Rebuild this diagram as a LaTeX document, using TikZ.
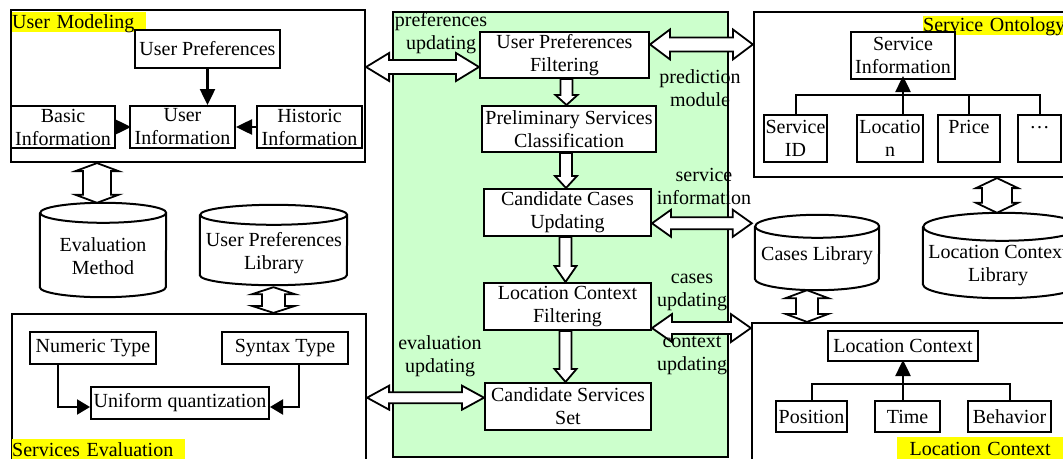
\documentclass[tikz,border=0pt]{standalone}
\usepackage{fontspec}
\setmainfont{Liberation Serif}
\usetikzlibrary{calc,arrows.meta}
\definecolor{panelgreen}{HTML}{CCFFCC}
\definecolor{tagyellow}{HTML}{FFFF00}

\tikzset{
  every node/.append style={font=\fontsize{20}{23}\selectfont},
  itembox/.style={draw, line width=2pt, fill=white, inner sep=0pt, align=center},
  groupframe/.style={draw, line width=2.2pt, fill=white, inner sep=0pt},
  tagnote/.style={fill=tagyellow, inner sep=0pt, anchor=north west},
  txt/.style={inner sep=0pt, align=center},
  cylnode/.style={inner sep=0pt, draw=none},
  cylline/.style={line width=2pt},
  flowlink/.style={line width=2.5pt, -{Triangle[length=16pt,width=15pt]}},
  quantlink/.style={line width=2pt, -{Triangle[length=13pt,width=15pt]}},
  treeline/.style={line width=2pt},
  blockarrow/.style={draw, line width=1.8pt, fill=white, line join=miter},
}

% double-headed horizontal block arrow: left tip, right tip, shaft half, head half, head length
\newcommand\BiArrowH[5]{%
  \path[blockarrow] let \p1=(#1), \p2=(#2) in
   (\x1,\y1) -- (\x1+#5,\y1+#4) -- (\x1+#5,\y1+#3) -- (\x2-#5,\y1+#3)
   -- (\x2-#5,\y1+#4) -- (\x2,\y1) -- (\x2-#5,\y1-#4) -- (\x2-#5,\y1-#3)
   -- (\x1+#5,\y1-#3) -- (\x1+#5,\y1-#4) -- cycle;}
% double-headed vertical block arrow: top tip, bottom tip, shaft half, head half, head length
\newcommand\BiArrowV[5]{%
  \path[blockarrow] let \p1=(#1), \p2=(#2) in
   (\x1,\y1) -- (\x1+#4,\y1-#5) -- (\x1+#3,\y1-#5) -- (\x1+#3,\y2+#5)
   -- (\x1+#4,\y2+#5) -- (\x1,\y2) -- (\x1-#4,\y2+#5) -- (\x1-#3,\y2+#5)
   -- (\x1-#3,\y1-#5) -- (\x1-#4,\y1-#5) -- cycle;}
% single downward block arrow
\newcommand\DownArrowV[5]{%
  \path[blockarrow] let \p1=(#1), \p2=(#2) in
   (\x1-#3,\y1) -- (\x1+#3,\y1) -- (\x1+#3,\y2+#5) -- (\x1+#4,\y2+#5)
   -- (\x1,\y2) -- (\x1-#4,\y2+#5) -- (\x1-#3,\y2+#5) -- cycle;}
% database cylinder outline round a named node: node, x radius, y radius
\newcommand\CylDraw[3]{%
  \draw[cylline] ([yshift=-#3]#1.north west) -- ([yshift=#3]#1.south west)
    arc[start angle=180,end angle=360,x radius=#2,y radius=#3]
    -- ([yshift=-#3]#1.north east)
    arc[start angle=0,end angle=360,x radius=#2,y radius=#3];}

\begin{document}
\begin{tikzpicture}[x=1pt,y=-1pt]
\path[use as bounding box] (0,0) rectangle (1063,458);
\clip (0,0) rectangle (1063,458);
\fill[white] (0,0) rectangle (1063,458);

% central processing panel
\node[draw, line width=1.5pt, fill=panelgreen, inner sep=0pt,
      minimum width=335pt, minimum height=445pt] (panel) at (560.5,234.5) {};

% ---------- User Modeling ----------
\node[groupframe, minimum width=354pt, minimum height=152pt] (um) at (188,86) {};
\node[tagnote, text width=134pt, text height=16pt, text depth=4pt, align=left] (umtag) at (12,12) {User Modeling};
\node[itembox, minimum width=145pt, minimum height=38pt] (up) at (207.5,49) {User Preferences};
\node[itembox, minimum width=104pt, minimum height=42pt] (basic) at (63,127) {Basic\\Information};
\node[itembox, minimum width=105pt, minimum height=42pt] (uinfo) at (182.5,127) {User\\Information};
\node[itembox, minimum width=105pt, minimum height=42pt] (hist) at (309.5,127) {Historic\\Information};
\draw[flowlink] (up.south) -- (up.south |- uinfo.north);
\draw[flowlink] (basic.east) -- ([xshift=2pt]uinfo.west);
\draw[flowlink] (hist.west) -- (uinfo.east);

% ---------- Service Ontology ----------
\node[groupframe, minimum width=321pt, minimum height=165pt] (so) at (914.5,94.5) {};
\node[tagnote, text width=145pt, text height=15pt, text depth=4pt, align=left] (sotag) at (923,16) {Service Ontology};
\node[itembox, minimum width=104pt, minimum height=47pt] (si) at (903,55.5) {Service\\Information};
\node[itembox, minimum width=63pt, minimum height=47pt] (sid) at (795.5,138.5) {Service\\ID};
\node[itembox, minimum width=66pt, minimum height=47pt] (loc) at (890,138.5) {Locatio\\n};
\node[itembox, minimum width=62pt, minimum height=47pt] (price) at (969,138.5) {Price\\~};
\node[itembox, minimum width=43pt, minimum height=47pt] (dots) at (1039.5,138.5) {…\\~};
\coordinate (soBar) at (900,95);
\draw[treeline] (sid.north) -- (sid.north |- soBar) -- (dots.north |- soBar) -- (dots.north);
\draw[treeline] (price.north) -- (price.north |- soBar);
\draw[flowlink] (loc.north -| si.south) -- ([yshift=4pt]si.south);

% ---------- Location Context ----------
\node[groupframe, minimum width=323pt, minimum height=142pt] (lcbox) at (913.5,394) {};
\node[itembox, minimum width=150pt, minimum height=30pt] (lc) at (903,346) {Location Context};
\node[itembox, minimum width=71pt, minimum height=31pt] (pos) at (811.5,416.5) {Position};
\node[itembox, minimum width=65pt, minimum height=31pt] (time) at (907.5,416.5) {Time};
\node[itembox, minimum width=83pt, minimum height=31pt] (beh) at (1009.5,416.5) {Behavior};
\coordinate (lcBar) at (900,384);
\draw[treeline] (pos.north) -- (pos.north |- lcBar) -- (beh.north |- lcBar) -- (beh.north);
\draw[flowlink] (time.north -| lc.south) -- ([yshift=2pt]lc.south);
\node[tagnote, text width=166pt, text height=18pt, text depth=5pt, align=center] (lctag) at (897,437) {Location Context};

% ---------- Services Evaluation ----------
\node[groupframe, minimum width=354pt, minimum height=151pt] (se) at (189,389.5) {};
\node[itembox, minimum width=126pt, minimum height=32pt] (nt) at (93,348) {Numeric Type};
\node[itembox, minimum width=126pt, minimum height=32pt] (st) at (285,348) {Syntax Type};
\node[itembox, minimum width=178pt, minimum height=32pt] (uq) at (180,403) {Uniform quantization};
\draw[quantlink] ($(nt.south west)!0.23!(nt.south east)$) |- ([yshift=-4pt]uq.west);
\draw[quantlink] ($(st.south west)!0.61!(st.south east)$) |- ([yshift=-4pt]uq.east);
\node[tagnote, text width=173pt, text height=17pt, text depth=5pt, align=left] (setag) at (12,439) {Services Evaluation};

% ---------- data stores ----------
\node[cylnode, minimum width=126pt, minimum height=94pt] (em) at (103,250) {};
\CylDraw{em}{63pt}{10pt}
\node[txt] (emtxt) at (103,256) {Evaluation\\Method};
\node[cylnode, minimum width=147pt, minimum height=80pt] (upl) at (273.5,245) {};
\CylDraw{upl}{73.5pt}{10pt}
\node[txt] (upltxt) at (274,253.5) {User Preferences\\Library};
\node[cylnode, minimum width=124pt, minimum height=75pt] (cl) at (817,252.5) {};
\CylDraw{cl}{62pt}{11.5pt}
\node[txt] (cltxt) at (817,256) {Cases Library};
\node[cylnode, minimum width=158pt, minimum height=85pt] (lcl) at (1002,255.5) {};
\CylDraw{lcl}{79pt}{14pt}
\node[txt] (lcltxt) at (998,266) {Location Context\\Library};

% ---------- processing chain ----------
\node[itembox, minimum width=169pt, minimum height=46pt] (upf) at (564.5,55) {User Preferences\\Filtering};
\node[itembox, minimum width=174pt, minimum height=46pt] (psc) at (569,129) {Preliminary Services\\Classification};
\node[itembox, minimum width=167pt, minimum height=47pt] (ccu) at (567.5,212.5) {Candidate Cases\\Updating};
\node[itembox, minimum width=167pt, minimum height=47pt] (lcf) at (567.5,306.5) {Location Context\\Filtering};
\node[itembox, minimum width=166pt, minimum height=47pt] (css) at (568,406.5) {Candidate Services\\Set};

\DownArrowV{[xshift=2pt]upf.south}{[xshift=2pt]upf.south |- psc.north}{6pt}{11pt}{10pt}
\DownArrowV{[xshift=-3pt]psc.south}{[xshift=-3pt]psc.south |- ccu.north}{6pt}{11pt}{12pt}
\DownArrowV{[xshift=-2pt]ccu.south}{[xshift=-2pt]ccu.south |- lcf.north}{6pt}{11pt}{16pt}
\DownArrowV{[xshift=-2pt]lcf.south}{[xshift=-2pt]lcf.south |- css.north}{6pt}{11pt}{13pt}

% ---------- exchanges between modules ----------
\coordinate (upfL) at ($(upf.south west)!0.25!(upf.north west)$);
\BiArrowH{um.east |- upfL}{upfL}{7pt}{14pt}{23pt}
\coordinate (upfR) at ($(upf.north east)!0.28!(upf.south east)$);
\BiArrowH{upfR}{so.west |- upfR}{7pt}{15pt}{20pt}
\coordinate (ccuR) at ($(ccu.north east)!0.72!(ccu.south east)$);
\BiArrowH{ccuR}{[xshift=-3pt]cl.west |- ccuR}{6pt}{13.5pt}{19pt}
\coordinate (lcfR) at ($(lcf.north east)!0.94!(lcf.south east)$);
\BiArrowH{lcfR}{lcbox.west |- lcfR}{6pt}{14pt}{20pt}
\coordinate (cssL) at ($(css.north west)!0.32!(css.south west)$);
\BiArrowH{se.east |- cssL}{cssL}{5.5pt}{12pt}{22pt}

\coordinate (emTop) at ([xshift=-6pt]em.north);
\BiArrowV{um.south -| emTop}{emTop}{14pt}{21.5pt}{8pt}
\BiArrowV{[yshift=-2pt]upl.south}{se.north -| upl.south}{11.5pt}{21.5pt}{7pt}
\coordinate (lclTop) at ([xshift=-5pt]lcl.north);
\BiArrowV{so.south -| lclTop}{lclTop}{15pt}{21pt}{10pt}
\coordinate (clBot) at ([xshift=-10pt]cl.south);
\BiArrowV{clBot}{lcbox.north -| clBot}{11pt}{21.5pt}{8pt}

% ---------- exchange labels ----------
\node[txt] (lbPref) at (441,33) {preferences\\updating};
\node[txt] (lbPred) at (700,88) {prediction\\module};
\node[txt] (lbServ) at (704,186) {service\\information};
\node[txt] (lbCases) at (692,292) {cases\\updating};
\node[txt] (lbCtx) at (692,356) {context\\updating};
\node[txt] (lbEval) at (440,356) {evaluation\\updating};
\end{tikzpicture}
\end{document}
